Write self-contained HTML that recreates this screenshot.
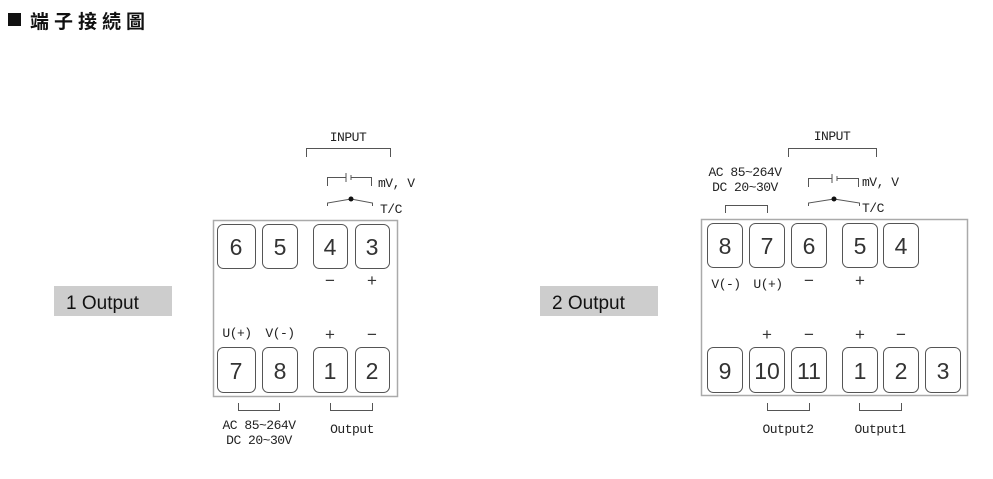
<!DOCTYPE html>
<html><head><meta charset="utf-8"><style>
html,body{margin:0;padding:0;background:#fff;width:993px;height:479px;overflow:hidden}
svg{display:block}
.d{font-family:"Liberation Sans",sans-serif;font-size:23px;fill:#333;text-anchor:middle}
.m{font-family:"Liberation Mono",monospace;font-size:13px;fill:#222;letter-spacing:-0.5px}
.c{text-anchor:middle}
</style></head><body>
<svg width="993" height="479" viewBox="0 0 993 479" xmlns="http://www.w3.org/2000/svg">
<rect x="8" y="13" width="13" height="13" fill="#111"/>
<text x="30" y="28" font-family="'Noto Sans CJK TC',sans-serif" font-size="19" font-weight="bold" letter-spacing="5" fill="#111">端子接続圖</text>

<rect x="54" y="286" width="118" height="30" fill="#cdcdcd"/>
<text x="66" y="309" font-family="'Liberation Sans',sans-serif" font-size="19" fill="#111">1 Output</text>
<rect x="540" y="286" width="118" height="30" fill="#cdcdcd"/>
<text x="552" y="309" font-family="'Liberation Sans',sans-serif" font-size="19" fill="#111">2 Output</text>

<g fill="none" stroke="#555" stroke-width="1">
<rect x="213.5" y="220.5" width="184" height="176" stroke="#aaa" stroke-width="1.5"/>
<rect x="217.5" y="224.5" width="38" height="44" rx="6"/>
<rect x="262.5" y="224.5" width="35" height="44" rx="6"/>
<rect x="313.5" y="224.5" width="34" height="44" rx="6"/>
<rect x="355.5" y="224.5" width="34" height="44" rx="6"/>
<rect x="217.5" y="347.5" width="38" height="45" rx="6"/>
<rect x="262.5" y="347.5" width="35" height="45" rx="6"/>
<rect x="313.5" y="347.5" width="34" height="45" rx="6"/>
<rect x="355.5" y="347.5" width="34" height="45" rx="6"/>
<path d="M306.5 157V148.5H390.5V157"/>
<path d="M327.5 186V177.5H346M351 177.5H371.5V186M346 173V182M351 175V180"/>
<path d="M327.5 206V203L351 199L372.5 203V206"/>
<path d="M238.5 403V410.5H279.5V403"/>
<path d="M330.5 403V410.5H372.5V403"/>
<rect x="701.5" y="219.5" width="266" height="176" stroke="#aaa" stroke-width="1.5"/>
<rect x="707.5" y="223.5" width="35" height="44" rx="6"/>
<rect x="749.5" y="223.5" width="35" height="44" rx="6"/>
<rect x="791.5" y="223.5" width="35" height="44" rx="6"/>
<rect x="842.5" y="223.5" width="35" height="44" rx="6"/>
<rect x="883.5" y="223.5" width="35" height="44" rx="6"/>
<rect x="707.5" y="347.5" width="35" height="45" rx="6"/>
<rect x="749.5" y="347.5" width="35" height="45" rx="6"/>
<rect x="791.5" y="347.5" width="35" height="45" rx="6"/>
<rect x="842.5" y="347.5" width="35" height="45" rx="6"/>
<rect x="883.5" y="347.5" width="35" height="45" rx="6"/>
<rect x="925.5" y="347.5" width="35" height="45" rx="6"/>
<path d="M788.5 157V148.5H876.5V157"/>
<path d="M725.5 213V205.5H767.5V213"/>
<path d="M808.5 187V178.5H832M837 178.5H858.5V187M832 174V183M837 176V181"/>
<path d="M808.5 206V203L834 199L859.5 203V206"/>
<path d="M767.5 403V410.5H809.5V403"/>
<path d="M859.5 403V410.5H901.5V403"/>
</g>
<circle cx="351" cy="199" r="2.5" fill="#111"/>
<circle cx="834" cy="199" r="2.5" fill="#111"/>

<g class="d">
<text x="236" y="255">6</text><text x="280" y="255">5</text><text x="330" y="255">4</text><text x="372" y="255">3</text>
<text x="236" y="379">7</text><text x="280" y="379">8</text><text x="330" y="379">1</text><text x="372" y="379">2</text>
<text x="725" y="254">8</text><text x="767" y="254">7</text><text x="809" y="254">6</text><text x="860" y="254">5</text><text x="901" y="254">4</text>
<text x="725" y="379">9</text><text x="767" y="379">10</text><text x="809" y="379">11</text><text x="860" y="379">1</text><text x="901" y="379">2</text><text x="943" y="379">3</text>
</g>
<g class="d" style="font-size:17px">
<text x="330" y="286">−</text><text x="372" y="286">+</text>
<text x="330" y="340">+</text><text x="372" y="340">−</text>
<text x="809" y="286">−</text><text x="860" y="286">+</text>
<text x="767" y="340">+</text><text x="809" y="340">−</text><text x="860" y="340">+</text><text x="901" y="340">−</text>
</g>
<g class="m">
<text x="348" y="141" class="c">INPUT</text>
<text x="378" y="187">mV, V</text>
<text x="380" y="213">T/C</text>
<text x="237" y="337" class="c">U(+)</text><text x="280" y="337" class="c">V(-)</text>
<text x="259" y="429" class="c">AC 85~264V</text>
<text x="259" y="444" class="c">DC 20~30V</text>
<text x="352" y="433" class="c">Output</text>
<text x="832" y="140" class="c">INPUT</text>
<text x="862" y="186">mV, V</text>
<text x="862" y="212">T/C</text>
<text x="745" y="176" class="c">AC 85~264V</text>
<text x="745" y="191" class="c">DC 20~30V</text>
<text x="726" y="288" class="c">V(-)</text><text x="768" y="288" class="c">U(+)</text>
<text x="788" y="433" class="c">Output2</text>
<text x="880" y="433" class="c">Output1</text>
</g>
</svg>
</body></html>
